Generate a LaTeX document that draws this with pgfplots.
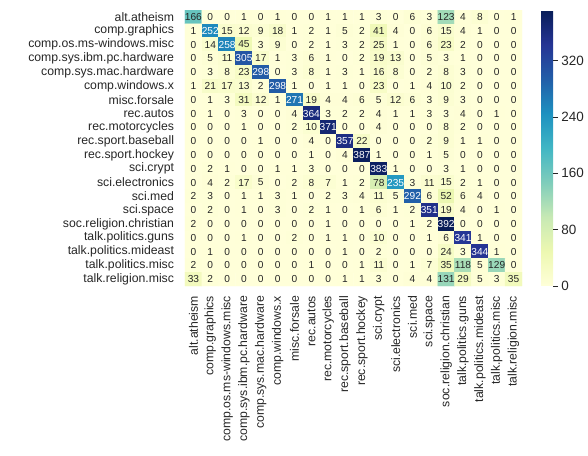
\documentclass[border=0pt]{standalone}
\usepackage{pgfplots}
\pgfplotsset{compat=1.18}
\usepackage{pgfplotstable}
\usepackage{fontspec}
\setmainfont{Liberation Sans}
\definecolor{txt}{HTML}{262626}
\pgfplotsset{/pgf/number format/assume math mode=true, colorbar shift/.style={xshift=19bp}}
\pgfplotstableread[row sep=\\]{
c\\
166\\0\\0\\1\\0\\1\\0\\0\\1\\1\\1\\3\\0\\6\\3\\123\\4\\8\\0\\1\\
1\\252\\15\\12\\9\\18\\1\\2\\1\\5\\2\\41\\4\\0\\6\\15\\4\\1\\0\\0\\
0\\14\\258\\45\\3\\9\\0\\2\\1\\3\\2\\25\\1\\0\\6\\23\\2\\0\\0\\0\\
0\\5\\11\\305\\17\\1\\3\\6\\1\\0\\2\\19\\13\\0\\5\\3\\1\\0\\0\\0\\
0\\3\\8\\23\\298\\0\\3\\8\\1\\3\\1\\16\\8\\0\\2\\8\\3\\0\\0\\0\\
1\\21\\17\\13\\2\\298\\1\\0\\1\\1\\0\\23\\0\\1\\4\\10\\2\\0\\0\\0\\
0\\1\\3\\31\\12\\1\\271\\19\\4\\4\\6\\5\\12\\6\\3\\9\\3\\0\\0\\0\\
0\\1\\0\\3\\0\\0\\4\\364\\3\\2\\2\\4\\1\\1\\3\\3\\4\\0\\1\\0\\
0\\0\\0\\1\\0\\0\\2\\10\\371\\0\\0\\4\\0\\0\\0\\8\\2\\0\\0\\0\\
0\\0\\0\\0\\1\\0\\0\\4\\0\\357\\22\\0\\0\\0\\2\\9\\1\\1\\0\\0\\
0\\0\\0\\0\\0\\0\\0\\1\\0\\4\\387\\1\\0\\0\\1\\5\\0\\0\\0\\0\\
0\\2\\1\\0\\0\\1\\1\\3\\0\\0\\0\\383\\1\\0\\0\\3\\1\\0\\0\\0\\
0\\4\\2\\17\\5\\0\\2\\8\\7\\1\\2\\78\\235\\3\\11\\15\\2\\1\\0\\0\\
2\\3\\0\\1\\1\\3\\1\\0\\2\\3\\4\\11\\5\\292\\6\\52\\6\\4\\0\\0\\
0\\2\\0\\1\\0\\3\\0\\2\\1\\0\\1\\6\\1\\2\\351\\19\\4\\0\\1\\0\\
2\\0\\0\\0\\0\\0\\0\\0\\1\\0\\0\\0\\0\\1\\2\\392\\0\\0\\0\\0\\
0\\0\\0\\1\\0\\0\\2\\0\\1\\1\\0\\10\\0\\0\\1\\6\\341\\1\\0\\0\\
0\\1\\0\\0\\0\\0\\0\\0\\0\\1\\0\\2\\0\\0\\0\\24\\3\\344\\1\\0\\
2\\0\\0\\0\\0\\0\\0\\1\\0\\0\\1\\11\\0\\1\\7\\35\\118\\5\\129\\0\\
33\\2\\0\\0\\0\\0\\0\\0\\0\\1\\1\\3\\0\\4\\4\\131\\29\\5\\3\\35\\
}\cm
\begin{document}
\begin{tikzpicture}
\useasboundingbox (-185bp,-170bp) rectangle (403bp,286bp);
\clip (-185bp,-170bp) rectangle (403bp,286bp);
\begin{axis}[
  scale only axis, width=337bp, height=276bp, at={(0,0)}, anchor=south west,
  xmin=-0.5, xmax=19.5, ymin=-0.5, ymax=19.5, y dir=reverse,
  xtick={0,...,19}, ytick={0,...,19},
  xticklabels={alt.atheism,comp.graphics,comp.os.ms-windows.misc,comp.sys.ibm.pc.hardware,comp.sys.mac.hardware,comp.windows.x,misc.forsale,rec.autos,rec.motorcycles,rec.sport.baseball,rec.sport.hockey,sci.crypt,sci.electronics,sci.med,sci.space,soc.religion.christian,talk.politics.guns,talk.politics.mideast,talk.politics.misc,talk.religion.misc},
  yticklabels={alt.atheism,comp.graphics,comp.os.ms-windows.misc,comp.sys.ibm.pc.hardware,comp.sys.mac.hardware,comp.windows.x,misc.forsale,rec.autos,rec.motorcycles,rec.sport.baseball,rec.sport.hockey,sci.crypt,sci.electronics,sci.med,sci.space,soc.religion.christian,talk.politics.guns,talk.politics.mideast,talk.politics.misc,talk.religion.misc},
  axis line style={draw=none}, major tick length=0pt,
  tick label style={font=\fontsize{12.3}{13}\selectfont, text=txt},
  xticklabel style={rotate=90, anchor=east, inner sep=0pt, outer sep=0pt, xshift=-10bp},
  yticklabel style={anchor=east, inner sep=0pt, outer sep=0pt, xshift=-11bp},
  colormap={ylgnbu}{rgb255=(255,255,217) rgb255=(237,248,177) rgb255=(199,233,180) rgb255=(127,205,187) rgb255=(65,182,196) rgb255=(29,145,192) rgb255=(34,94,168) rgb255=(37,52,148) rgb255=(8,29,88)},
  point meta min=0, point meta max=392,
  colorbar right,
  colorbar shift/.style={xshift=19bp},
  colorbar style={width=12bp,
    axis line style={draw=none}, ytick={0,80,160,240,320},
    tick align=outside, major tick length=5bp, ytick pos=right,
    tick style={draw=txt, line width=0.8bp},
    yticklabel style={font=\fontsize{13.5}{14}\selectfont, text=txt, inner sep=0pt, anchor=west, xshift=3bp}},
]
\addplot[matrix plot*, mesh/cols=20, point meta=explicit]
  table[x index=0, y index=0, x expr={\coordindex-20*floor((\coordindex+0.5)/20)}, y expr={floor((\coordindex+0.5)/20)}, meta=c] {\cm};
\addplot[draw=none, mark=none, point meta=explicit,
  restrict expr to domain={\thisrow{c}}{-1:200},
  nodes near coords,
  every node near coord/.append style={anchor=center, inner sep=0pt, text=txt, font=\fontsize{10.2}{11}\selectfont}]
  table[x index=0, y index=0, x expr={\coordindex-20*floor((\coordindex+0.5)/20)}, y expr={floor((\coordindex+0.5)/20)}, meta=c] {\cm};
\addplot[draw=none, mark=none, point meta=explicit,
  restrict expr to domain={\thisrow{c}}{201:1000},
  nodes near coords,
  every node near coord/.append style={anchor=center, inner sep=0pt, text=white, font=\fontsize{10.2}{11}\selectfont}]
  table[x index=0, y index=0, x expr={\coordindex-20*floor((\coordindex+0.5)/20)}, y expr={floor((\coordindex+0.5)/20)}, meta=c] {\cm};
\end{axis}
\end{tikzpicture}
\end{document}
